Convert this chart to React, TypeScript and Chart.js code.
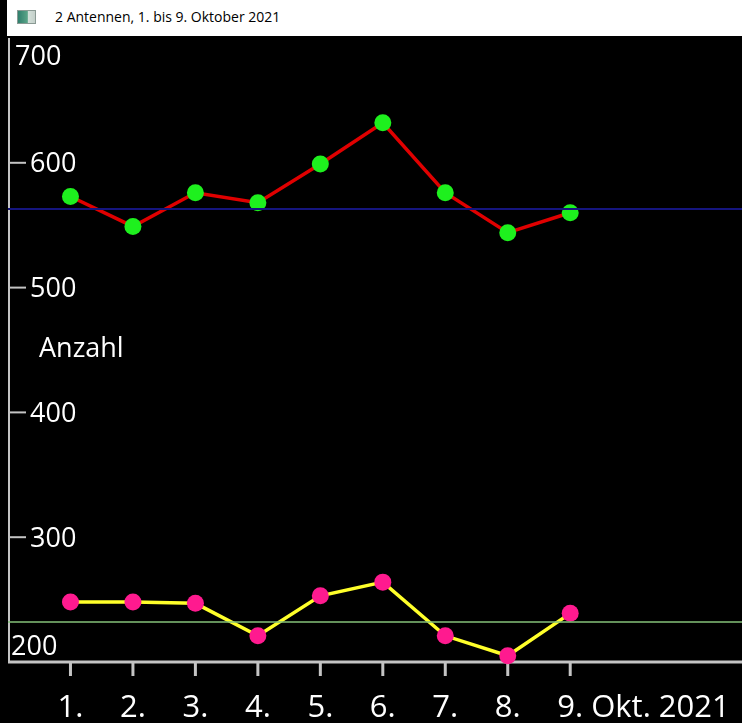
import React, { useEffect, useRef } from "react";
import { Chart, registerables } from "chart.js";

Chart.register(...registerables);

// Data (two antennas, 1.-9. October 2021)
const days = [1, 2, 3, 4, 5, 6, 7, 8, 9];
const xLabels = ["1.", "2.", "3.", "4.", "5.", "6.", "7.", "8.", "9. Okt. 2021"];
const antenna1 = [573, 549, 576, 568, 599, 632, 576, 544, 560];
const antenna2 = [248, 248, 247, 221, 253, 264, 221, 205, 239];
const level1 = 563;
const level2 = 232;
const yTicks = [200, 300, 400, 500, 600, 700];
const yMin = 200;
const yMax = 700;
const xMin = 0;
const xMax = 11.75;

const title = "2 Antennen, 1. bis 9. Oktober 2021";
const yTitle = "Anzahl";

const FONT = "'Open Sans', 'Noto Sans', sans-serif";
const AXIS = "#c4c4c4";

// draws the axes, tick marks and labels by hand from the chart scales
const axesPlugin = {
    id: "customAxes",
    beforeDatasetsDraw: (chart: any) => {
        const ctx = chart.ctx;
        const area = chart.chartArea;
        const xs = chart.scales.x;
        const ys = chart.scales.y;
        ctx.save();
        ctx.strokeStyle = AXIS;
        ctx.lineCap = "butt";

        // y axis
        ctx.lineWidth = 2;
        ctx.beginPath();
        ctx.moveTo(area.left + 1, area.top);
        ctx.lineTo(area.left + 1, area.bottom);
        ctx.stroke();

        // x axis
        ctx.lineWidth = 3;
        ctx.beginPath();
        ctx.moveTo(area.left, area.bottom);
        ctx.lineTo(area.right, area.bottom);
        ctx.stroke();

        // x ticks
        ctx.lineWidth = 3;
        days.forEach((d) => {
            const x = xs.getPixelForValue(d);
            ctx.beginPath();
            ctx.moveTo(x, area.bottom);
            ctx.lineTo(x, area.bottom + 14);
            ctx.stroke();
        });

        // y ticks (inner ones only)
        ctx.lineWidth = 2;
        yTicks.forEach((v) => {
            if (v === yMin || v === yMax) return;
            const y = ys.getPixelForValue(v);
            ctx.beginPath();
            ctx.moveTo(area.left + 1, y);
            ctx.lineTo(area.left + 18, y);
            ctx.stroke();
        });
        ctx.restore();
    },
    afterDraw: (chart: any) => {
        const ctx = chart.ctx;
        const area = chart.chartArea;
        const xs = chart.scales.x;
        const ys = chart.scales.y;
        ctx.save();
        ctx.fillStyle = "#ffffff";

        // y labels
        ctx.font = `27px ${FONT}`;
        ctx.textAlign = "left";
        ctx.textBaseline = "middle";
        yTicks.forEach((v) => {
            let y = ys.getPixelForValue(v) + 2;
            let x = area.left + 22;
            if (v === yMax) {
                y += 17;
                x = area.left + 7;
            } else if (v === yMin) {
                y -= 17;
                x = area.left + 3;
            }
            ctx.fillText(String(v), x, y);
        });

        // y title
        ctx.fillText(yTitle, area.left + 31, (area.top + area.bottom) / 2 - 1);

        // x labels: the "N." part sits centred under its tick
        ctx.font = `31px ${FONT}`;
        ctx.textBaseline = "alphabetic";
        xLabels.forEach((lab, i) => {
            const x = xs.getPixelForValue(days[i]);
            const w = ctx.measureText(lab.split(" ")[0]).width;
            ctx.fillText(lab, x - w / 2, area.bottom + 55);
        });
        ctx.restore();
    },
};

const AntennaChart: React.FC = () => {
    const canvasRef = useRef<HTMLCanvasElement | null>(null);

    useEffect(() => {
        if (!canvasRef.current) return;
        const ctx = canvasRef.current.getContext("2d");
        if (!ctx) return;

        const chart = new Chart(ctx, {
            type: "line",
            data: {
                datasets: [
                    {
                        label: "level1",
                        data: [
                            { x: xMin, y: level1 },
                            { x: xMax, y: level1 },
                        ],
                        borderColor: "#15157e",
                        borderWidth: 2,
                        pointRadius: 0,
                    },
                    {
                        label: "level2",
                        data: [
                            { x: xMin, y: level2 },
                            { x: xMax, y: level2 },
                        ],
                        borderColor: "#86c27a",
                        borderWidth: 1.5,
                        pointRadius: 0,
                    },
                    {
                        label: "Antenne 1",
                        data: days.map((d, i) => ({ x: d, y: antenna1[i] })),
                        borderColor: "#e00000",
                        borderWidth: 3.5,
                        pointRadius: 8.5,
                        pointBackgroundColor: "#1ef01e",
                        pointBorderColor: "#1ef01e",
                        pointBorderWidth: 0,
                        clip: false,
                    },
                    {
                        label: "Antenne 2",
                        data: days.map((d, i) => ({ x: d, y: antenna2[i] })),
                        borderColor: "#ffff2a",
                        borderWidth: 3.5,
                        pointRadius: 8.5,
                        pointBackgroundColor: "#ff1a8f",
                        pointBorderColor: "#ff1a8f",
                        pointBorderWidth: 0,
                        clip: false,
                    },
                ],
            },
            options: {
                animation: false,
                responsive: true,
                maintainAspectRatio: false,
                layout: { autoPadding: false, padding: { left: 8, top: 38, right: 0, bottom: 61 } },
                scales: {
                    x: { type: "linear", display: false, min: xMin, max: xMax },
                    y: { type: "linear", display: false, min: yMin, max: yMax },
                },
                plugins: {
                    legend: { display: false },
                    tooltip: { enabled: false },
                },
            },
            plugins: [axesPlugin],
        });

        return () => chart.destroy();
    }, []);

    return (
        <div style={{ position: "fixed", left: 0, top: 0, width: 742, height: 723, background: "#000" }}>
            <canvas ref={canvasRef} />
            {/* window title bar */}
            <div
                style={{
                    position: "absolute",
                    left: 7,
                    top: 0,
                    width: 735,
                    height: 36,
                    background: "#fff",
                }}
            >
                <div
                    style={{
                        position: "absolute",
                        left: 10,
                        top: 10,
                        width: 17,
                        height: 12,
                        border: "1px solid #8a9a94",
                        background: "linear-gradient(to right, #2f7f6d 0%, #5aa488 55%, #d4e0da 60%, #c4d0ca 100%)",
                    }}
                />
                <div
                    style={{
                        position: "absolute",
                        left: 48,
                        top: 7,
                        fontFamily: FONT,
                        fontSize: 14,
                        color: "#000",
                        whiteSpace: "nowrap",
                    }}
                >
                    {title}
                </div>
            </div>
        </div>
    );
};

export default function App() {
    return <AntennaChart />;
}
